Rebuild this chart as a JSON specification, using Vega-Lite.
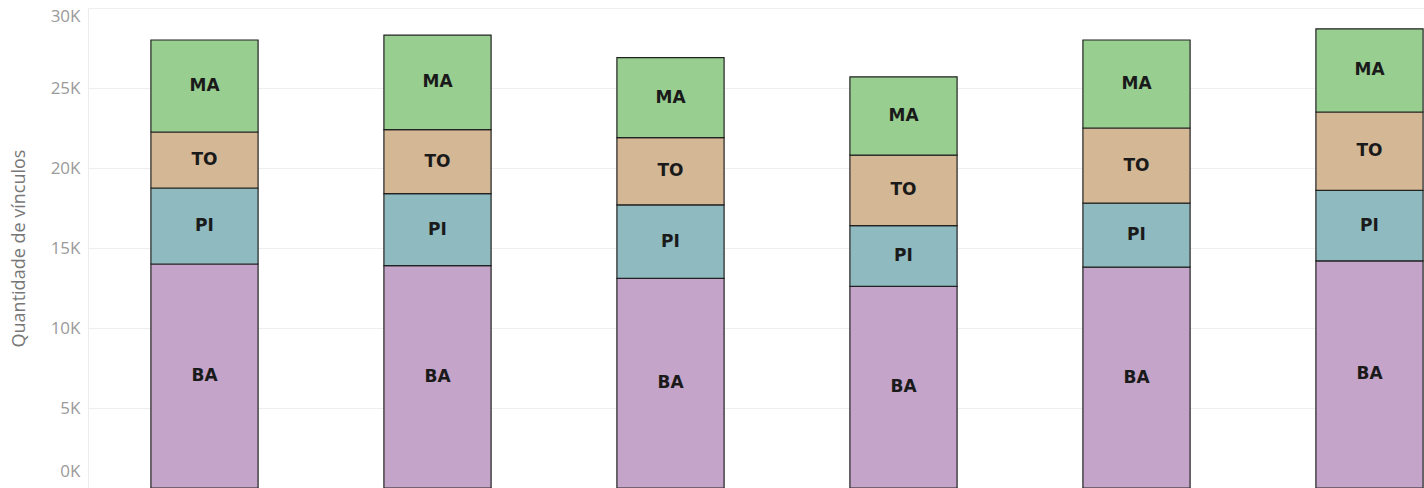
{
  "$schema": "https://vega.github.io/schema/vega-lite/v6.json",
  "autosize": {"type": "none"},
  "width": 1398,
  "height": 480,
  "padding": {"left": 88, "top": 8, "right": 0, "bottom": 0},
  "background": "white",
  "config": {"view": {"stroke": null}},
  "data": {"values": [
    {"barra": "1", "regiao": "BA", "vinculos": 14000},
    {"barra": "1", "regiao": "PI", "vinculos": 4750},
    {"barra": "1", "regiao": "TO", "vinculos": 3500},
    {"barra": "1", "regiao": "MA", "vinculos": 5750},
    {"barra": "2", "regiao": "BA", "vinculos": 13900},
    {"barra": "2", "regiao": "PI", "vinculos": 4500},
    {"barra": "2", "regiao": "TO", "vinculos": 4000},
    {"barra": "2", "regiao": "MA", "vinculos": 5900},
    {"barra": "3", "regiao": "BA", "vinculos": 13100},
    {"barra": "3", "regiao": "PI", "vinculos": 4600},
    {"barra": "3", "regiao": "TO", "vinculos": 4200},
    {"barra": "3", "regiao": "MA", "vinculos": 5000},
    {"barra": "4", "regiao": "BA", "vinculos": 12600},
    {"barra": "4", "regiao": "PI", "vinculos": 3800},
    {"barra": "4", "regiao": "TO", "vinculos": 4400},
    {"barra": "4", "regiao": "MA", "vinculos": 4900},
    {"barra": "5", "regiao": "BA", "vinculos": 13800},
    {"barra": "5", "regiao": "PI", "vinculos": 4000},
    {"barra": "5", "regiao": "TO", "vinculos": 4700},
    {"barra": "5", "regiao": "MA", "vinculos": 5500},
    {"barra": "6", "regiao": "BA", "vinculos": 14200},
    {"barra": "6", "regiao": "PI", "vinculos": 4400},
    {"barra": "6", "regiao": "TO", "vinculos": 4900},
    {"barra": "6", "regiao": "MA", "vinculos": 5200}
  ]},
  "transform": [
    {"stack": "vinculos", "groupby": ["barra"], "as": ["y0", "y1"]}
  ],
  "encoding": {
    "x": {
      "field": "barra", "type": "nominal", "sort": null,
      "scale": {"paddingInner": 0.54, "paddingOuter": 0.27},
      "axis": null
    }
  },
  "layer": [
    {
      "mark": {"type": "bar", "stroke": "#222222", "strokeWidth": 1.2},
      "encoding": {
        "y": {
          "field": "y1", "type": "quantitative",
          "scale": {"domain": [0, 30000], "nice": false, "zero": true},
          "axis": {
            "title": "Quantidade de vínculos",
            "values": [0, 5000, 10000, 15000, 20000, 25000, 30000],
            "labelExpr": "datum.value / 1000 + 'K'",
            "labelFont": "Open Sans",
            "labelFontSize": 17,
            "labelColor": "#9a9a9a",
            "labelPadding": 8,
            "labelOffset": {"condition": [{"test": "datum.value == 0", "value": -17}, {"test": "datum.value == 30000", "value": 8}], "value": 0},
            "titleFont": "Open Sans",
            "titleFontSize": 18,
            "titleFontWeight": "normal",
            "titleColor": "#777777",
            "titlePadding": 22,
            "ticks": false,
            "domain": true,
            "domainColor": "#ececec",
            "gridColor": "#eeeeee",
            "gridWidth": 1
          }
        },
        "y2": {"field": "y0"},
        "color": {
          "field": "regiao", "type": "nominal",
          "scale": {
            "domain": ["BA", "PI", "TO", "MA"],
            "range": ["#c4a4c8", "#8fbac0", "#d4b896", "#98cf90"]
          },
          "legend": null
        }
      }
    },
    {
      "transform": [
        {"fold": ["y0", "y1"], "as": ["borda", "pos"]}
      ],
      "mark": {"type": "text", "font": "DejaVu Sans", "fontWeight": "bold", "fontSize": 17, "color": "#1a1a1a", "baseline": "middle"},
      "encoding": {
        "y": {"aggregate": "mean", "field": "pos", "type": "quantitative"},
        "detail": {"field": "regiao"},
        "text": {"field": "regiao"}
      }
    }
  ]
}
